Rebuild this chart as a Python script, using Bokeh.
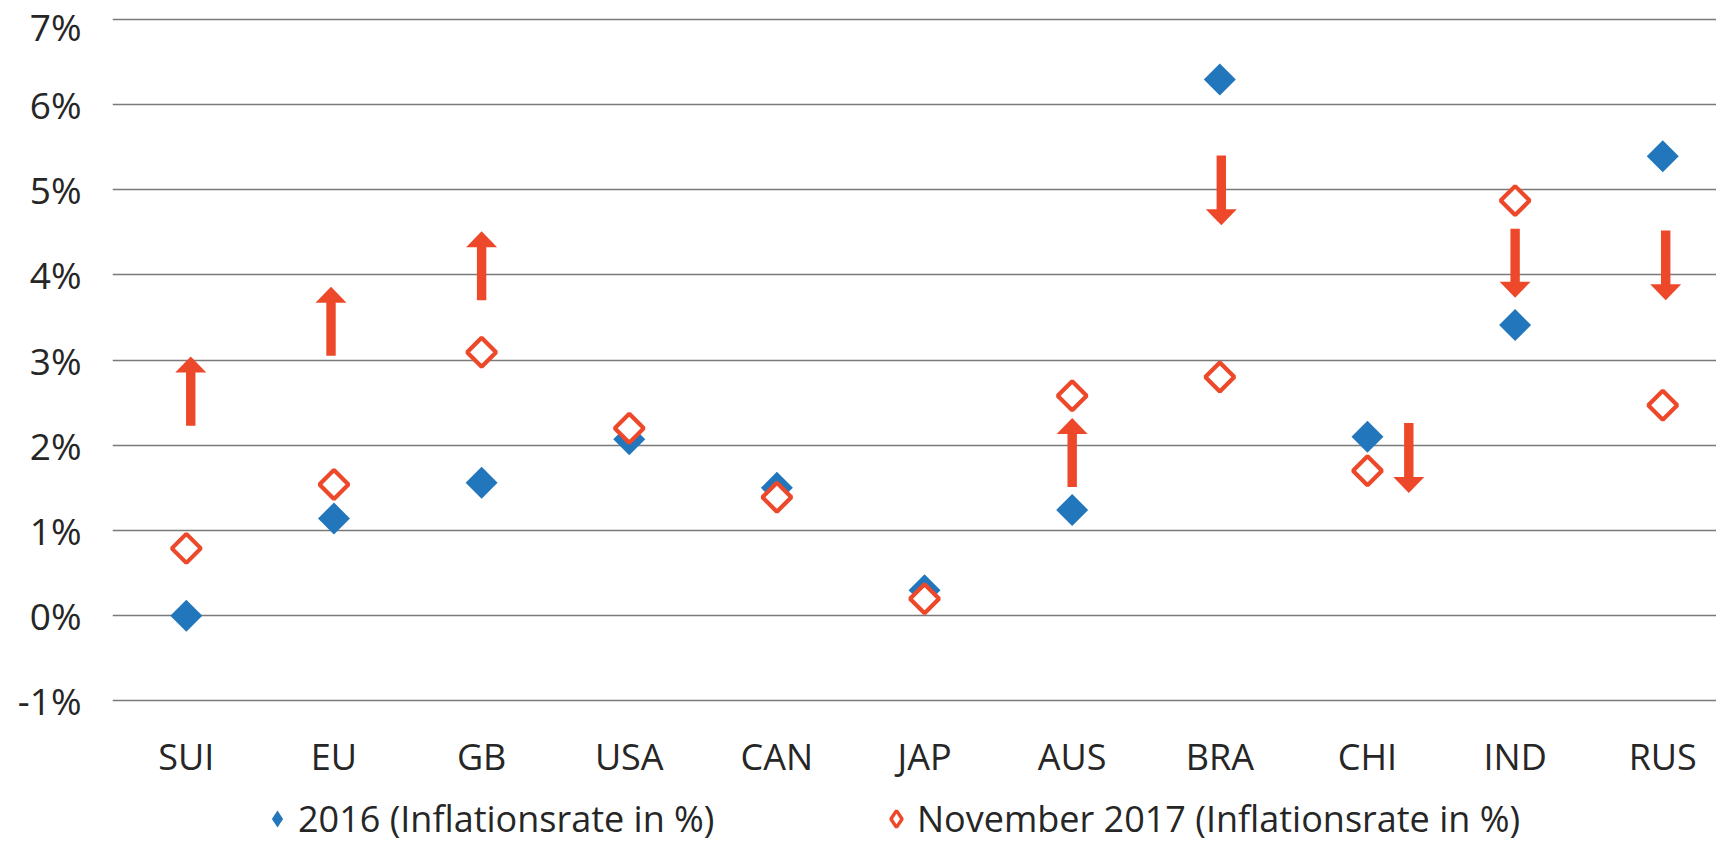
import numpy as np
from bokeh.plotting import figure
from bokeh.layouts import column
from bokeh.models import Range1d, FixedTicker, Legend, LegendItem, ColumnDataSource
from bokeh.embed import file_html
from bokeh.resources import INLINE

# ---------------- data ----------------
categories = ["SUI", "EU", "GB", "USA", "CAN", "JAP", "AUS", "BRA", "CHI", "IND", "RUS"]
infl_2016 = [0.0, 1.14, 1.56, 2.07, 1.50, 0.30, 1.24, 6.29, 2.10, 3.41, 5.39]
infl_nov2017 = [0.79, 1.54, 3.09, 2.20, 1.39, 0.20, 2.58, 2.80, 1.70, 4.87, 2.47]

arrow_cats = ["SUI", "EU", "GB", "AUS", "BRA", "CHI", "IND", "RUS"]
arrow_from = [2.23, 3.05, 3.70, 1.51, 5.40, 2.26, 4.54, 4.52]
arrow_to = [3.04, 3.86, 4.51, 2.32, 4.58, 1.44, 3.73, 3.70]
arrow_shift = [0.03, -0.02, 0.0, 0.0, 0.01, 0.28, 0.0, 0.02]

y_ticks = [-1, 0, 1, 2, 3, 4, 5, 6, 7]
y_labels = ["-1%", "0%", "1%", "2%", "3%", "4%", "5%", "6%", "7%"]

legend_labels = ["2016 (Inflationsrate in %)", "November 2017 (Inflationsrate in %)"]

# ---------------- style ----------------
BLUE = "#2276BC"
RED = "#EE482A"
TXT = "#262626"
FONT = "Open Sans"
FS = "36px"

W = 1716
FW, FH = 1604, 687
H_LEG = 61
BL, BT = 112, 16
X0, X1 = -0.5, 10.364
Y0, Y1 = -1.03, 7.03

p = figure(frame_width=FW, frame_height=FH, output_backend="svg", toolbar_location=None,
           x_range=Range1d(X0, X1), y_range=Range1d(Y0, Y1),
           min_border_left=BL, min_border_right=0, min_border_top=BT,
           min_border_bottom=0)
p.outline_line_color = None
p.background_fill_color = "white"

xt = FixedTicker(ticks=list(range(len(categories))))
yt = FixedTicker(ticks=y_ticks)
p.xaxis.ticker = xt
p.xaxis.major_label_overrides = {i: c for i, c in enumerate(categories)}
p.yaxis.ticker = yt
p.yaxis.major_label_overrides = {t: l for t, l in zip(y_ticks, y_labels)}

for ax in (p.xaxis, p.yaxis):
    ax.axis_line_color = None
    ax.major_tick_line_color = None
    ax.minor_tick_line_color = None
    ax.major_label_text_font = FONT
    ax.major_label_text_color = TXT
p.xaxis.major_label_text_font_size = FS
p.yaxis.major_label_text_font_size = "37px"
p.xaxis.major_label_standoff = 22
p.yaxis.major_label_standoff = 25

p.xgrid.grid_line_color = None
p.ygrid.ticker = yt
p.ygrid.grid_line_color = "#7a7a7a"
p.ygrid.grid_line_width = 1.5

# ---------------- arrows (computed from data, sized in screen px) ----------------
ux = (X1 - X0) / FW   # data units per px (x)
uy = (Y1 - Y0) / FH   # data units per px (y)
shaft_hw = 4.7 * ux
head_hw = 15.5 * ux
head_len = 16.0 * uy

xs, ys = [], []
for c, a, b, s in zip(arrow_cats, arrow_from, arrow_to, arrow_shift):
    x = categories.index(c) + s
    d = np.sign(b - a)
    yb = b - d * head_len
    xs.append([x - shaft_hw, x + shaft_hw, x + shaft_hw, x + head_hw, x, x - head_hw, x - shaft_hw])
    ys.append([a, a, yb, yb, b, yb, yb])
p.patches(xs, ys, fill_color=RED, line_color=None)

# ---------------- markers ----------------
idx = list(range(len(categories)))
src = ColumnDataSource(dict(x=idx, y16=infl_2016, y17=infl_nov2017))
p.scatter("x", "y16", source=src, marker="square", angle=np.pi / 4, size=22.6,
          fill_color=BLUE, line_color=None)
p.scatter("x", "y17", source=src, marker="square", angle=np.pi / 4, size=20.5,
          fill_color="white", line_color=RED, line_width=4.2)

# ---------------- legend strip ----------------
# the strip's ranges lie outside the data, so only the legend glyphs are shown
pl = figure(width=W, height=H_LEG, output_backend="svg", toolbar_location=None,
            x_range=Range1d(-3, -2), y_range=Range1d(-3, -2),
            x_axis_location=None, y_axis_location=None,
            min_border=0)
pl.outline_line_color = None
pl.grid.visible = False
lg1 = pl.scatter("x", "y16", source=src, marker="diamond", fill_color=BLUE, line_color=None)
lg2 = pl.scatter("x", "y17", source=src, marker="diamond", fill_color="white",
                 line_color=RED, line_width=3.4)

legend = Legend(items=[LegendItem(label=legend_labels[0], renderers=[lg1]),
                       LegendItem(label=legend_labels[1], renderers=[lg2])],
                location=(144, -2), orientation="horizontal",
                glyph_width=42, glyph_height=55, label_height=55,
                label_standoff=0, label_width=563, spacing=14,
                padding=0, margin=0, border_line_color=None,
                background_fill_alpha=0,
                label_text_font=FONT, label_text_font_size=FS, label_text_color=TXT)
pl.add_layout(legend)

open("out.html", "w").write(file_html(column(p, pl, spacing=0), INLINE))
